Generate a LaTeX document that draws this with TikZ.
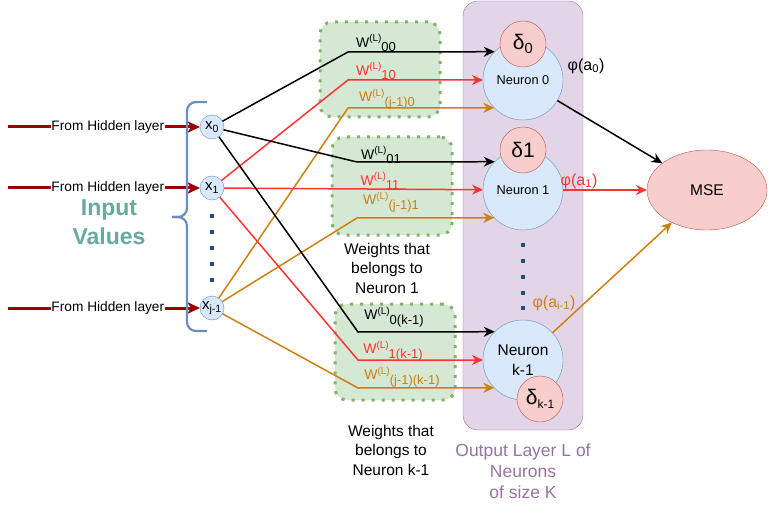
\documentclass[tikz,border=0pt]{standalone}
\usepackage{fontspec}
\setmainfont{Liberation Sans}
\usetikzlibrary{arrows.meta,shapes.geometric}
\definecolor{inblue}{HTML}{DAE8FC}
\definecolor{inbluedraw}{HTML}{6C8EBF}
\definecolor{gfill}{HTML}{D5E8D4}
\definecolor{gdraw}{HTML}{82B366}
\definecolor{pfill}{HTML}{E1D5E7}
\definecolor{pdraw}{HTML}{9673A6}
\definecolor{rfill}{HTML}{F8CECC}
\definecolor{rdraw}{HTML}{B85450}
\definecolor{wred}{HTML}{FF3333}
\definecolor{worange}{HTML}{CC8010}
\definecolor{dred}{HTML}{990000}
\definecolor{tealc}{HTML}{67AB9F}
\definecolor{dotblue}{HTML}{1F4E8C}
\newcommand\myfs[2]{\fontsize{#1}{#2}\selectfont}
\newcommand\wlab[1]{W\raisebox{0.42em}{\myfs{10}{10}(L)}\raisebox{-0.32em}{\myfs{13}{13}#1}}
\tikzset{
  inp/.style={circle, draw=inbluedraw, fill=inblue, minimum size=24pt, inner sep=0pt, outer sep=0pt, font=\myfs{15}{15}},
  neuron/.style={circle, draw=inbluedraw, fill=inblue, minimum size=80pt, inner sep=0pt, outer sep=0pt},
  deltac/.style={circle, draw=rdraw, fill=rfill, minimum size=46pt, inner sep=0pt, outer sep=0pt, font=\myfs{21}{21}},
  wbox/.style={draw=gdraw, fill=gfill, line width=3pt, dash pattern=on 3pt off 7pt, rounded corners=12pt, minimum width=120pt, inner sep=0pt},
  conn/.style={line width=1.5pt, -{Stealth[length=11pt,width=10pt]}},
  feed/.style={dred, line width=3pt, -{Stealth[length=13pt,width=12pt]}},
  wl/.style={font=\myfs{14}{14}, inner sep=0pt},
  note/.style={align=center, font=\myfs{15.5}{19.5}},
  dotsq/.style={fill=dotblue, minimum size=4pt, inner sep=0pt, outer sep=0pt}
}
\begin{document}
\begin{tikzpicture}[x=1pt,y=-1pt]
\useasboundingbox (0,0) rectangle (768,513);
% output layer container
\node[draw=pdraw, fill=pfill, rounded corners=15pt, minimum width=120pt, minimum height=429pt, inner sep=0pt] (layer) at (523,215.5) {};
% weight boxes
\node[wbox, minimum height=95pt] (box1) at (380,69.5) {};
\node[wbox, minimum height=98pt] (box2) at (392,186) {};
\node[wbox, minimum height=96pt] (box3) at (395,352) {};
% input nodes
\node[inp] (x0) at (212,127) {x\textsubscript{0}};
\node[inp] (x1) at (212,188) {x\textsubscript{1}};
\node[inp] (xj) at (212,308) {x\textsubscript{j-1}};
% neurons
\node[neuron, font=\myfs{12.8}{12.8}] (N0) at (523,80) {Neuron 0};
\node[neuron, font=\myfs{12.8}{12.8}] (N1) at (523,190) {Neuron 1};
\node[neuron, font=\myfs{15.5}{20}, align=center] (Nk) at (523,360) {Neuron\\k-1};
\node[deltac] (d0) at (523,44) {δ\textsubscript{0}};
\node[deltac] (d1) at (523,150) {δ1};
\node[deltac] (dk) at (540,399) {δ\raisebox{-0.2em}{\myfs{12}{12}k-1}};
% MSE
\node[ellipse, draw=rdraw, fill=rfill, minimum width=120pt, minimum height=80pt, inner sep=0pt, outer sep=0pt, font=\myfs{15.5}{15.5}] (mse) at (707,190) {MSE};
% feed arrows from hidden layer
\coordinate (h0) at (8,127);
\coordinate (h1) at (8,188);
\coordinate (hj) at (8,308);
\draw[feed] (h0) -- node[pos=0.52, fill=white, inner sep=0.5pt, text=black, font=\myfs{13.7}{13.7}] (l0) {From Hidden layer} (x0);
\draw[feed] (h1) -- node[pos=0.52, fill=white, inner sep=0.5pt, text=black, font=\myfs{13.7}{13.7}] (l1) {From Hidden layer} (x1);
\draw[feed] (hj) -- node[pos=0.52, fill=white, inner sep=0.5pt, text=black, font=\myfs{13.7}{13.7}] (lj) {From Hidden layer} (xj);
% brace
\draw[inbluedraw, line width=2.2pt, rounded corners=9pt] (207,102) -- (187,102) -- (187,217) -- (172,217);
\draw[inbluedraw, line width=2.2pt, rounded corners=9pt] (172,217) -- (187,217) -- (187,331) -- (207,331);
% dots
\foreach \yy in {216,232,248,264,280} \node[dotsq] at (212,\yy) {};
\foreach \yy in {245,261,277,293,308} \node[dotsq] at (523,\yy) {};
% input values text
\node[align=center, text=tealc, font=\bfseries\myfs{23}{29}] (iv) at (109,222) {Input\\Values};
% connectors to neuron 0
\draw[conn, black] (x0) -- (348,52) -- (N0.135.57);
\draw[conn, wred] (x1) -- (348,80) -- (N0.west);
\draw[conn, worange] (xj) -- (348,108) -- (N0.224.43);
% to neuron 1
\draw[conn, black] (x0) -- (357,162) -- (N1.135.57);
\draw[conn, wred] (x1) -- (N1);
\draw[conn, worange] (xj) -- (357,218) -- (N1.224.43);
% to neuron k-1
\draw[conn, black] (x0) -- (358,332) -- (Nk.135.57);
\draw[conn, wred] (x1) -- (358,360) -- (Nk.west);
\draw[conn, worange] (xj) -- (358,388) -- (Nk.224.43);
% outputs
\draw[conn, black] (N0) -- (mse);
\draw[conn, wred] (N1) -- (mse);
\draw[conn, worange] (Nk) -- (mse);
% weight labels
\node[wl] (w00) at (376,43) {\wlab{00}};
\node[wl, text=wred] (w10) at (376,71) {\wlab{10}};
\node[wl, text=worange] (wj0) at (387,99) {\wlab{(j-1)0}};
\node[wl] (w01) at (381,155) {\wlab{01}};
\node[wl, text=wred] (w11) at (380,181) {\wlab{11}};
\node[wl, text=worange] (wj1) at (391,202) {\wlab{(j-1)1}};
\node[wl] (w0k) at (394,317) {\wlab{0(k-1)}};
\node[wl, text=wred] (w1k) at (393,351) {\wlab{1(k-1)}};
\node[wl, text=worange] (wjk) at (402,377) {\wlab{(j-1)(k-1)}};
% activation labels
\node[font=\myfs{16}{16}, inner sep=0pt] (phi0) at (586,66) {φ(a\textsubscript{0})};
\node[font=\myfs{16}{16}, inner sep=0pt, text=wred] (phi1) at (579,181) {φ(a\textsubscript{1})};
\node[font=\myfs{16}{16}, inner sep=0pt, text=worange] (phik) at (554,303) {φ(a\textsubscript{i-1})};
% notes
\node[note] (n1) at (387,268) {Weights that\\belongs to\\Neuron 1};
\node[note] (nk) at (391,450) {Weights that\\belongs to\\Neuron k-1};
\node[align=center, text=pdraw, font=\myfs{17.5}{21}] (nl) at (523,471) {Output Layer L of\\Neurons\\of size K};
\end{tikzpicture}
\end{document}
